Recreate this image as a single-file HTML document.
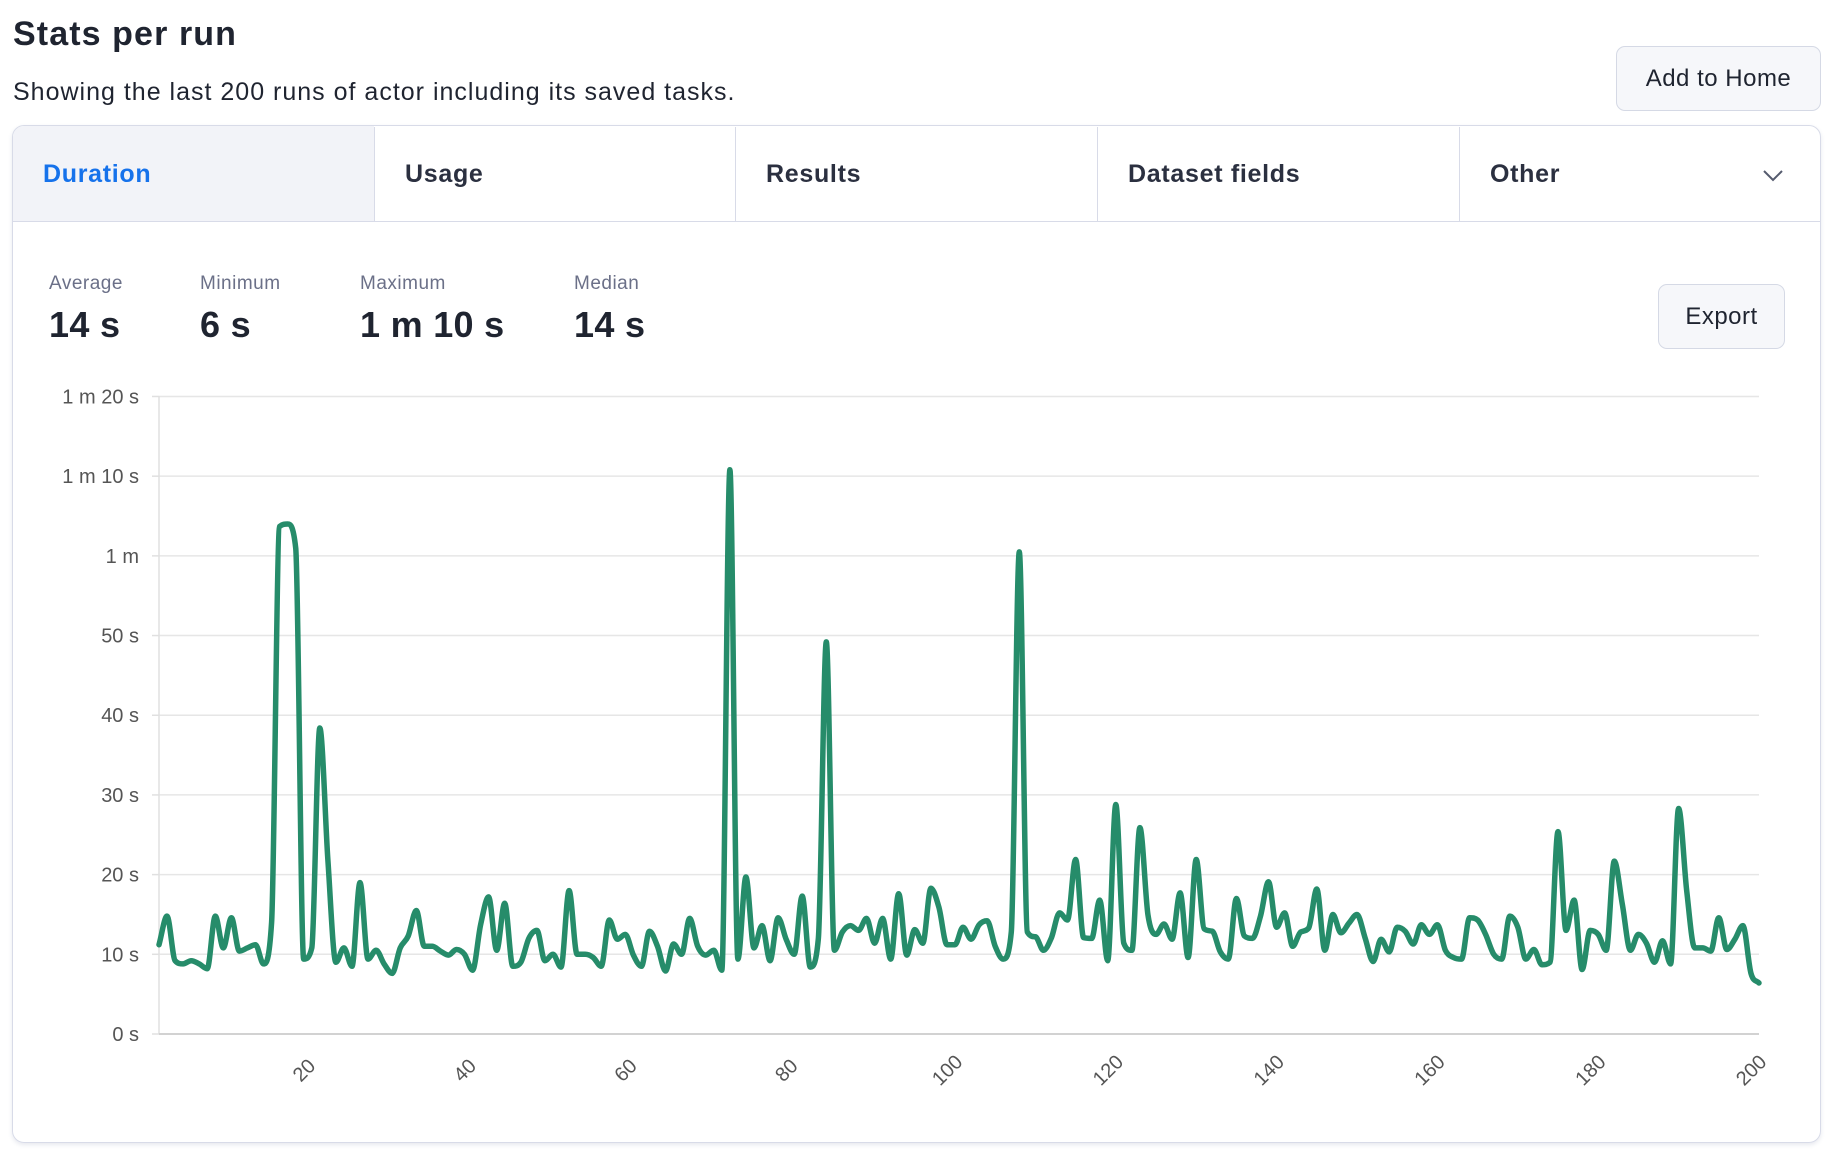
<!DOCTYPE html>
<html><head><meta charset="utf-8"><style>
*{margin:0;padding:0;box-sizing:border-box}
body{width:1834px;height:1160px;background:#fff;font-family:"Liberation Sans",sans-serif;color:#1f2430;position:relative;overflow:hidden}
.a{position:absolute;white-space:nowrap}
.tab{position:absolute;top:127px;height:94px;line-height:94px;font-size:25px;font-weight:bold;color:#2b3040;padding-left:30px;border-right:1px solid #d8dbe8;letter-spacing:0.7px}
.lab{font-size:19px;color:#6b7088;letter-spacing:0.5px}
.val{font-size:36px;font-weight:bold;color:#1f2430;letter-spacing:0.3px}
.btn{position:absolute;border:1px solid #d5d9e5;background:#f6f7fa;border-radius:9px;font-size:24px;color:#1f2430;text-align:center;letter-spacing:0.5px}
</style></head><body>
<div class="a" style="left:13px;top:15px;font-size:34px;font-weight:bold;letter-spacing:1.1px">Stats per run</div>
<div class="a" style="left:13px;top:78px;font-size:25px;letter-spacing:1px">Showing the last 200 runs of actor including its saved tasks.</div>
<div class="btn" style="left:1616px;top:46px;width:205px;height:65px;line-height:63px">Add to Home</div>
<div class="a" style="left:12px;top:125px;width:1809px;height:1018px;border:1px solid #d8dbe8;border-radius:12px;box-shadow:0 2px 4px rgba(60,70,120,0.12)"></div>
<div class="a" style="left:13px;top:126px;width:361px;height:95px;background:#f2f3f8;border-top-left-radius:11px"></div>
<div class="a" style="left:13px;top:221px;width:1807px;height:1px;background:#d8dbe8"></div>
<div class="tab" style="left:13px;width:362px;color:#1672eb">Duration</div>
<div class="tab" style="left:375px;width:361px">Usage</div>
<div class="tab" style="left:736px;width:362px">Results</div>
<div class="tab" style="left:1098px;width:362px">Dataset fields</div>
<div class="tab" style="left:1460px;width:360px;border-right:none">Other</div>
<svg class="a" style="left:1762px;top:168px" width="22" height="14"><polyline points="2,3 11,12 20,3" fill="none" stroke="#555b6e" stroke-width="2"/></svg>
<div class="a lab" style="left:49px;top:273px">Average</div>
<div class="a lab" style="left:200px;top:273px">Minimum</div>
<div class="a lab" style="left:360px;top:273px">Maximum</div>
<div class="a lab" style="left:574px;top:273px">Median</div>
<div class="a val" style="left:49px;top:304px">14 s</div>
<div class="a val" style="left:200px;top:304px">6 s</div>
<div class="a val" style="left:360px;top:304px">1 m 10 s</div>
<div class="a val" style="left:574px;top:304px">14 s</div>
<div class="btn" style="left:1658px;top:284px;width:127px;height:65px;line-height:63px">Export</div>
<svg id="ch" class="a" style="left:0;top:0" width="1834" height="1160" font-family="Liberation Sans, sans-serif"></svg>
<script>
var s=document.getElementById('ch'),h='';
var X0=159,X1=1759,Y0=1034,K=7.969;
var yl=['0 s','10 s','20 s','30 s','40 s','50 s','1 m','1 m 10 s','1 m 20 s'];
for(var k=0;k<=8;k++){var y=Y0-k*10*K;
 if(k>0)h+='<line x1="'+X0+'" x2="'+X1+'" y1="'+y+'" y2="'+y+'" stroke="#e6e6e6" stroke-width="1.5"/>';
 h+='<line x1="152" x2="'+X0+'" y1="'+y+'" y2="'+y+'" stroke="#e0e0e0" stroke-width="1.5"/>';
 h+='<text x="139" y="'+(y+7)+'" text-anchor="end" font-size="20" fill="#555">'+yl[k]+'</text>';}
h+='<line x1="'+X0+'" x2="'+X0+'" y1="396" y2="'+Y0+'" stroke="#e0e0e0" stroke-width="1.5"/>';
h+='<line x1="'+X0+'" x2="'+X1+'" y1="'+Y0+'" y2="'+Y0+'" stroke="#d2d2d2" stroke-width="2"/>';
var dx=(X1-X0)/199;
for(var i=20;i<=200;i+=20){var x=X0+dx*(i-1)-8;
 h+='<text x="'+x+'" y="1077" text-anchor="middle" font-size="20" fill="#555" transform="rotate(-45 '+x+' 1070)">'+i+'</text>';}
var d=[11.2,14.8,9.2,8.8,9.2,8.8,8.2,14.8,10.8,14.6,10.4,10.8,11.2,8.8,14,63.7,64,61,9.4,10.8,38.4,22,9,10.8,8.5,19,9.4,10.5,8.8,7.6,10.8,12.3,15.5,11,11,10.4,9.9,10.6,10,8,13.7,17.2,10.5,16.4,8.5,9,12,13,9.2,10,8.4,18,
10,10,9.6,8.5,14.3,11.9,12.5,9.9,8.5,12.9,11,7.9,11.3,10,14.5,11,9.9,10.5,8,70.8,9.4,19.7,10.8,13.6,9.2,14.6,11.9,10,17.3,8.4,11.9,49.2,10.5,12.8,13.6,13,14.5,11.4,14.5,9.4,17.6,9.9,13.1,11.4,18.3,15.9,11.2,11.2,13.4,11.9,13.7,
14.2,11,9.4,12.8,60.5,12.8,12.2,10.5,12.1,15.2,14.3,21.9,12.1,12,16.8,9.2,28.8,11.4,10.5,25.9,15,12.5,13.8,11.9,17.7,9.6,21.9,13.2,12.9,10.3,9.4,17,12.3,12,14.8,19.1,13.4,15.2,11,12.8,13.3,18.2,10.5,15,12.7,13.9,15,12.1,9.1,
11.9,10.3,13.4,12.9,11.3,13.7,12.5,13.7,10.5,9.6,9.4,14.6,14.3,12.5,10,9.4,14.8,13.4,9.4,10.6,8.7,9,25.4,13,16.8,8.1,13,12.5,10.5,21.7,16.3,10.5,12.5,11.4,9,11.7,8.8,28.3,18.1,10.8,10.8,10.4,14.6,10.6,11.9,13.6,7.6,6.4];
var n=d.length,P=[];for(i=0;i<n;i++)P.push([X0+dx*i,Y0-d[i]*K]);
var m=[],sl=[];for(i=0;i<n-1;i++)sl.push((P[i+1][1]-P[i][1])/dx);
m[0]=sl[0];m[n-1]=sl[n-2];
for(i=1;i<n-1;i++){m[i]=(sl[i-1]*sl[i]<=0)?0:(sl[i-1]+sl[i])/2;}
for(i=0;i<n-1;i++){if(sl[i]==0){m[i]=m[i+1]=0;continue;}var a=m[i]/sl[i],b=m[i+1]/sl[i],t=a*a+b*b;if(t>9){var tt=3/Math.sqrt(t);m[i]=tt*a*sl[i];m[i+1]=tt*b*sl[i];}}
var p='M'+P[0][0].toFixed(1)+','+P[0][1].toFixed(1);
for(i=0;i<n-1;i++){var c=dx/3;p+='C'+(P[i][0]+c).toFixed(1)+','+(P[i][1]+m[i]*c).toFixed(1)+' '+(P[i+1][0]-c).toFixed(1)+','+(P[i+1][1]-m[i+1]*c).toFixed(1)+' '+P[i+1][0].toFixed(1)+','+P[i+1][1].toFixed(1);}
h+='<path d="'+p+'" fill="none" stroke="#268c6a" stroke-width="5.5" stroke-linejoin="round" stroke-linecap="round"/>';
s.innerHTML=h;
</script>
</body></html>
